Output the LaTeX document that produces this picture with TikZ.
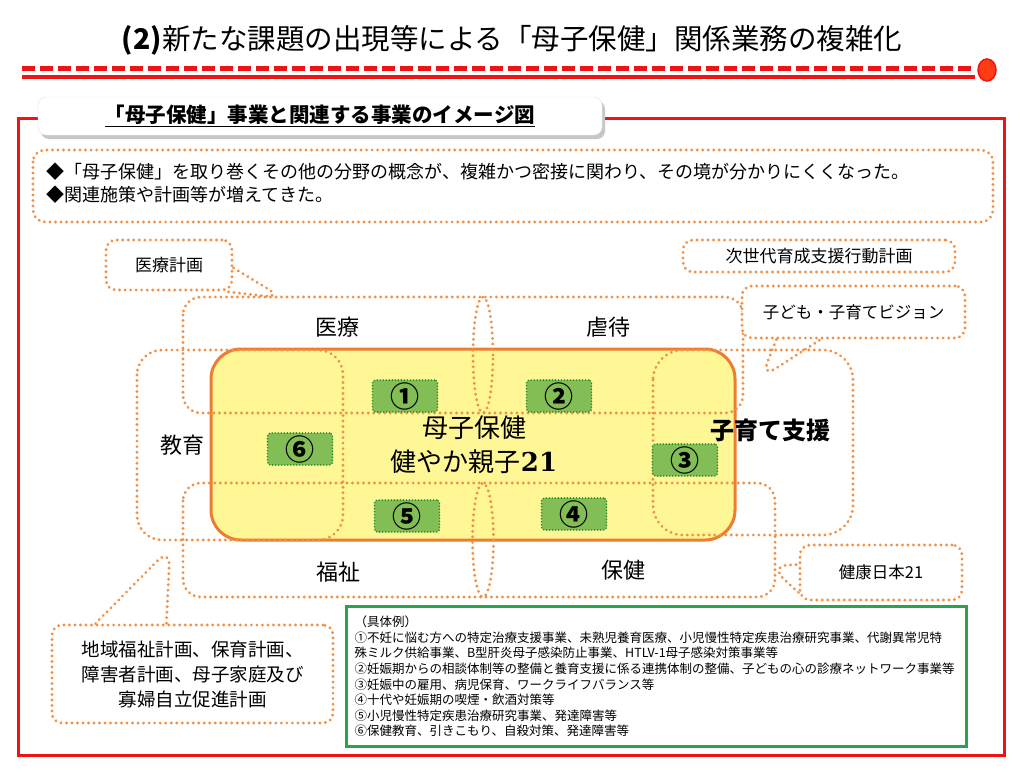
\documentclass[tikz,border=0pt]{standalone}
\usepackage{fontspec}
\newfontfamily\jp{Noto Sans CJK JP}
\newfontfamily\numserif{DejaVu Serif}
\definecolor{frame}{RGB}{238,20,20}
\definecolor{dotorange}{RGB}{240,145,70}
\definecolor{boxyellow}{RGB}{255,247,150}
\definecolor{boxedge}{RGB}{237,125,49}
\definecolor{numgreen}{RGB}{130,190,85}
\definecolor{numedge}{RGB}{40,140,40}
\definecolor{exgreen}{RGB}{40,165,75}

\begin{document}
\begin{tikzpicture}[x=1pt,y=-1pt,
    region/.style={draw=dotorange, line width=3.2pt, dash pattern=on 0.01pt off 5.5pt, line cap=round, rounded corners=18pt},
    plan/.style={region, rounded corners=10pt, fill=white, inner sep=0pt, font=\jp\fontsize{17}{20}\selectfont},
    numbox/.style={fill=numgreen, draw=numedge, line width=1.8pt, dash pattern=on 0.01pt off 3pt, line cap=round, rounded corners=3pt, minimum width=65pt, minimum height=32pt, inner sep=0pt, font=\jp\bfseries\fontsize{29}{29}\selectfont},
    field/.style={font=\jp\fontsize{22}{22}\selectfont}]
    \fill[white] (0,0) rectangle (1024,768);
    \useasboundingbox (0,0) rectangle (1024,768);
    \node[font=\jp\fontsize{28.5}{28}\selectfont] (title) at (512,40) {\textbf{(2)}新たな課題の出現等による「母子保健」関係業務の複雑化};
    \draw[frame, line width=5pt, dash pattern=on 13pt off 5pt] (22,68) -- (972,68);
    \draw[frame, line width=4pt] (22,77) -- (975,77);
    \draw[frame, fill={rgb,255:red,255;green,60;blue,20}, line width=1.5pt] (987,70) ellipse (9pt and 11pt);
    \draw[frame, line width=3pt] (18,118) rectangle (1004,755);
    \fill[black!22, rounded corners=8pt] (41,101) rectangle (605,139);
    \node[fill=white, draw=black!12, rounded corners=8pt, minimum width=564pt, minimum height=38pt, font=\jp\bfseries\fontsize{20.5}{20}\selectfont] (tabhead) at (320,116) {\underline{「母子保健」事業と関連する事業のイメージ図}};
    \draw[region, rounded corners=12pt] (33,150) rectangle (993,222);
    \node[anchor=west, align=left, font=\jp\fontsize{18}{23}\selectfont] (intro) at (43,183) {◆「母子保健」を取り巻くその他の分野の概念が、複雑かつ密接に関わり、その境が分かりにくくなった。\\◆関連施策や計画等が増えてきた。};
    % central area
    \draw[boxedge, fill=boxyellow, line width=3pt, rounded corners=30pt] (211,349) rectangle (735,540);
    \draw[region] (183,297) rectangle (743,413);
    \draw[region] (183,483) rectangle (775,597);
    \draw[region, rounded corners=25pt] (137,350) rectangle (343,540);
    \draw[region, rounded corners=30pt] (653,350) rectangle (853,535);
    \draw[region] (483,355) ellipse (10pt and 58pt);
    \draw[region] (483,540) ellipse (10.5pt and 57pt);
    \node[field] (iryo) at (337,327) {医療};
    \node[field] (gyakutai) at (608,327) {虐待};
    \node[field] (kyoiku) at (182,445) {教育};
    \node[field] (fukushi) at (338,572) {福祉};
    \node[field] (hoken) at (623,570) {保健};
    \node[font=\jp\bfseries\fontsize{24}{24}\selectfont] (kosodate) at (770,430) {子育て支援};
    \node[font=\jp\fontsize{26}{26}\selectfont] (boshi) at (474,428) {母子保健};
    \node[font=\jp\fontsize{26}{26}\selectfont] (sukoyaka) at (474,462) {健やか親子{\numserif\bfseries 21}};
    \node[numbox] (n1) at (405,396) {①};
    \node[numbox] (n2) at (559,396) {②};
    \node[numbox] (n3) at (685,460) {③};
    \node[numbox] (n4) at (574,514) {④};
    \node[numbox] (n5) at (407,516) {⑤};
    \node[numbox] (n6) at (300,449) {⑥};
    % plans
    \node[plan, minimum width=126pt, minimum height=50pt] (planIryo) at (169,265) {医療計画};
    \node[plan, minimum width=272pt, minimum height=32pt] (planJisedai) at (819,256) {次世代育成支援行動計画};
    \node[plan, minimum width=223pt, minimum height=52pt, font=\jp\fontsize{16.5}{20}\selectfont] (planVision) at (853.5,312) {子ども・子育てビジョン};
    \node[plan, minimum width=162pt, minimum height=55pt, font=\jp\fontsize{16.5}{20}\selectfont] (planKenko) at (881,572.5) {健康日本21};
    \node[plan, minimum width=281pt, minimum height=98pt, align=center, font=\jp\fontsize{18.5}{25}\selectfont] (planFukushi) at (192.5,674) {地域福祉計画、保育計画、\\障害者計画、母子家庭及び\\寡婦自立促進計画};
    \coordinate (tipIryo) at (283,298);
    \coordinate (tipVision) at (761,378);
    \coordinate (tipKenko) at (770,566);
    \coordinate (tipFukushi) at (170,548);
    \draw[region] ([yshift=-3pt]planIryo.east) -- (tipIryo) -- ([xshift=-8pt]planIryo.south east);
    \draw[region] ([xshift=36pt]planVision.south west) -- (tipVision) -- ([xshift=80pt]planVision.south west);
    \draw[region] ([yshift=-20pt]planKenko.west) -- (tipKenko) -- ([yshift=8pt]planKenko.west);
    \draw[region] ([xshift=45pt]planFukushi.north west) -- (tipFukushi) -- ([xshift=116pt]planFukushi.north west);
    % examples
    \node[draw=exgreen, line width=3pt, minimum width=620pt, minimum height=140pt, text width=604pt, align=left, anchor=north west, inner sep=6pt, font=\jp\fontsize{12.5}{15.6}\selectfont] (examples) at (345,605) {（具体例）\\①不妊に悩む方への特定治療支援事業、未熟児養育医療、小児慢性特定疾患治療研究事業、代謝異常児特\\殊ミルク供給事業、B型肝炎母子感染防止事業、HTLV-1母子感染対策事業等\\②妊娠期からの相談体制等の整備と養育支援に係る連携体制の整備、子どもの心の診療ネットワーク事業等\\③妊娠中の雇用、病児保育、ワークライフバランス等\\④十代や妊娠期の喫煙・飲酒対策等\\⑤小児慢性特定疾患治療研究事業、発達障害等\\⑥保健教育、引きこもり、自殺対策、発達障害等};
\end{tikzpicture}
\end{document}
